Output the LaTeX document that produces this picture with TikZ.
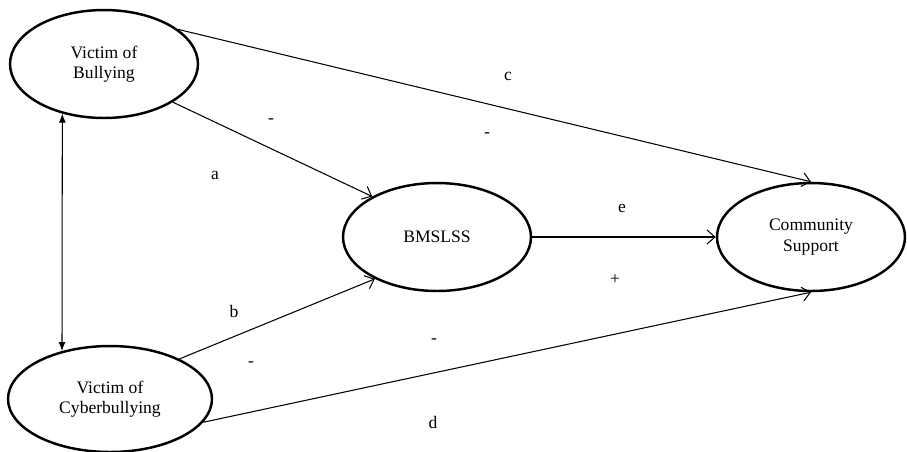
\documentclass[tikz,border=0pt]{standalone}
\usepackage{fontspec}
\setmainfont{Liberation Serif}
\usetikzlibrary{arrows.meta,positioning,shapes.geometric}

\begin{document}
\begin{tikzpicture}[
  x=0.02cm, y=-0.02cm,
  font=\fontsize{10}{11.5}\selectfont,
  latent/.style={draw, ellipse, line width=1.4pt, minimum width=3.76cm, minimum height=2.16cm, align=center, inner sep=1pt},
  arr/.style={line width=0.6pt, -{Straight Barb[length=1.6mm, width=2.8mm]}},
  dbl/.style={line width=0.6pt, {Latex[length=1.8mm, width=1.4mm]}-{Latex[length=1.8mm, width=1.4mm]}},
  lbl/.style={inner sep=0pt}
]
\useasboundingbox (0,0) rectangle (907,451);

% latent variables
\node[latent] (vob) at (104,64)  {Victim of\\Bullying};
\node[latent, minimum width=4.08cm, minimum height=2.12cm] (voc) at (110,399) {Victim of\\Cyberbullying};
\node[latent] (bms) at (437,237) {BMSLSS};
\node[latent] (cs)  at (811,237) {Community\\Support};

% paths
\draw[arr] (vob.-29)  -- (bms.148);
\draw[arr] (vob.25)   -- (cs.90);
\draw[arr] (voc.30)   -- (bms.214);
\draw[arr] (voc.-14)  -- (cs.-90);
\draw[arr] (bms.east) -- (cs.west);
\draw[dbl] (vob.-130) -- (voc.135);

% path labels
\node[lbl] (lc)  at (508,76)  {c};
\node[lbl] (lc2) at (487,135) {-};
\node[lbl] (la2) at (271,121) {-};
\node[lbl] (la)  at (215,175) {a};
\node[lbl] (le)  at (622,208) {e};
\node[lbl] (le2) at (615,280) {+};
\node[lbl] (lb)  at (234,311) {b};
\node[lbl] (lb2) at (251,364) {-};
\node[lbl] (ld2) at (434,341) {-};
\node[lbl] (ld)  at (433,422) {d};
\end{tikzpicture}
\end{document}
